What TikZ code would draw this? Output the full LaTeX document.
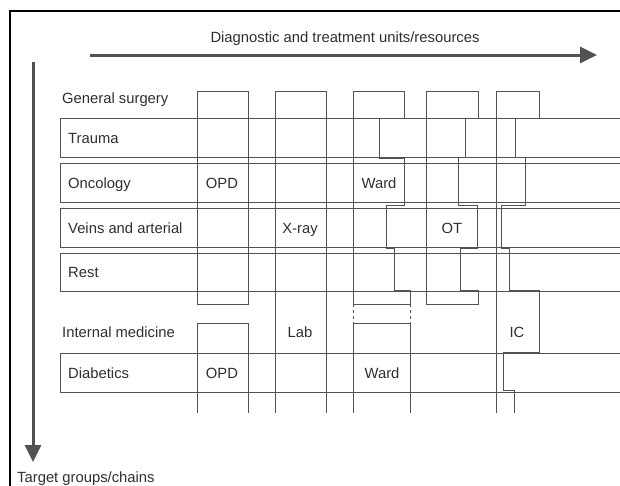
\documentclass[tikz,border=0pt]{standalone}
\usepackage{fontspec}
\setmainfont{Liberation Sans}
\usepackage{tikz}
\usetikzlibrary{arrows.meta}

\begin{document}
\begin{tikzpicture}[
    x=1pt, y=-1pt,
    label/.style={font=\fontsize{14.8}{16}\selectfont, text=black!82, inner sep=0pt},
    rowlabel/.style={label, anchor=base west},
    celllabel/.style={label, anchor=base},
    grid/.style={draw=black!68, line width=1pt},
    link/.style={grid, dash pattern=on 3pt off 3pt},
    axis/.style={-{Triangle[length=17pt, width=16pt]}, line width=3pt, black!68}
]
    \useasboundingbox (0,0) rectangle (620,485);

    % Frame, open to the right and below.
    \draw[black, line width=1.3pt] (10,495) -- (10,11) -- (630,11);

    % Axes.
    \coordinate (hstart) at (90,55);
    \coordinate (hend)   at (597,55);
    \coordinate (vstart) at (33,62);
    \coordinate (vend)   at (33,462);
    \draw[axis] (hstart) -- (hend);
    \draw[axis] (vstart) -- (vend);
    \node[label, anchor=base] (units) at (345,42) {Diagnostic and treatment units/resources};
    \node[rowlabel] (target) at (17,482) {Target groups/chains};

    % Target group rows, running off the right edge.
    \foreach \top/\bot in {118/157, 163/202, 208/247, 253/291, 353/392}
        \draw[grid] (630,\top) -- (60,\top) -- (60,\bot) -- (630,\bot);

    \node[rowlabel] (gensurg)   at (62,103) {General surgery};
    \node[rowlabel] (trauma)    at (68,143) {Trauma};
    \node[rowlabel] (oncology)  at (68,188) {Oncology};
    \node[rowlabel] (veins)     at (68,233) {Veins and arterial};
    \node[rowlabel] (rest)      at (68,277) {Rest};
    \node[rowlabel] (intmed)    at (62,337) {Internal medicine};
    \node[rowlabel] (diabetics) at (68,378) {Diabetics};

    % OPD column, one block per specialty.
    \draw[grid] (197,91) rectangle (248,304);
    \draw[grid] (197,413) -- (197,323) -- (248,323) -- (248,413);

    % X-ray / Lab column.
    \draw[grid] (275,413) -- (275,91) -- (326,91) -- (326,413);

    % Ward column with stepped capacity.
    \draw[grid] (353,304) -- (353,91) -- (404,91) -- (404,118) -- (379,118) -- (379,158)
        -- (404,158) -- (404,205) -- (386,205) -- (386,248) -- (394,248) -- (394,290)
        -- (410,290) -- (410,304) -- cycle;
    \draw[link] (353,304) -- (353,323);
    \draw[link] (410,304) -- (410,323);
    \draw[grid] (353,413) -- (353,323) -- (410,323) -- (410,413);

    % OT column.
    \draw[grid] (426,91) -- (478,91) -- (478,118) -- (465,118) -- (465,157) -- (458,157)
        -- (458,205) -- (477,205) -- (477,248) -- (460,248) -- (460,290) -- (478,290)
        -- (478,304) -- (426,304) -- cycle;

    % IC column.
    \draw[grid] (496,413) -- (496,91) -- (539,91) -- (539,118) -- (515,118) -- (515,157)
        -- (525,157) -- (525,205) -- (501,205) -- (501,248) -- (509,248) -- (509,290)
        -- (539,290) -- (539,352) -- (503,352) -- (503,390) -- (514,390) -- (514,413);

    \node[celllabel] (opdA)  at (222,188) {OPD};
    \node[celllabel] (wardA) at (379,188) {Ward};
    \node[celllabel] (xray)  at (300,233) {X-ray};
    \node[celllabel] (ot)    at (452,233) {OT};
    \node[celllabel] (lab)   at (300,337) {Lab};
    \node[celllabel] (ic)    at (517,337) {IC};
    \node[celllabel] (opdB)  at (222,378) {OPD};
    \node[celllabel] (wardB) at (382,378) {Ward};

\end{tikzpicture}
\end{document}
